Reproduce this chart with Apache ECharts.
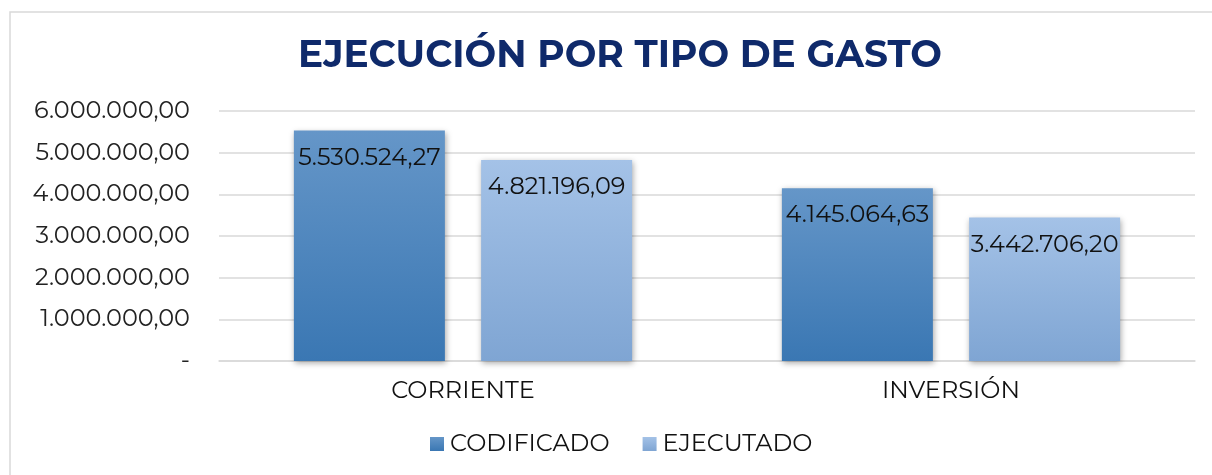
<!DOCTYPE html>
<html>
<head>
<meta charset="utf-8">
<title>Ejecución por tipo de gasto</title>
<script src="https://cdn.jsdelivr.net/npm/echarts@6/dist/echarts.min.js"></script>
<style>
  html, body { margin: 0; padding: 0; background: #fff; }
  #chart { width: 1212px; height: 475px; }
</style>
</head>
<body>
<div id="chart"></div>
<script>
// datos
const categories = ['CORRIENTE', 'INVERSIÓN']
const codificado = [5530524.27, 4145064.63]
const ejecutado = [4821196.09, 3442706.20]
const seriesNames = ['CODIFICADO', 'EJECUTADO']

const FONT = 'Montserrat, "Open Sans", sans-serif'

// formato 1.234.567,89
function fmt(v) {
  if (v === 0) return '-'
  const parts = v.toFixed(2).split('.')
  return parts[0].replace(/\B(?=(\d{3})+(?!\d))/g, '.') + ',' + parts[1]
}

function grad(top, bottom) {
  return new echarts.graphic.LinearGradient(0, 0, 0, 1, [
    { offset: 0, color: top },
    { offset: 1, color: bottom }
  ])
}

const chart = echarts.init(document.getElementById('chart'))

const label = {
  show: true,
  position: 'insideTop',
  distance: 15,
  color: '#111',
  fontSize: 24,
  fontFamily: FONT,
  formatter: p => fmt(p.value)
}

const option = {
  animation: false,
  graphic: [{
    type: 'rect',
    shape: { x: 10, y: 12, width: 1215, height: 480 },
    style: { fill: 'none', stroke: '#d9d9d9', lineWidth: 1.5 },
    silent: true
  }],
  title: {
    text: 'EJECUCIÓN POR TIPO DE GASTO',
    left: 293,
    top: 32,
    textStyle: {
      color: '#0f2a6b',
      fontSize: 37.5,
      fontWeight: 'bold',
      fontFamily: FONT
    }
  },
  legend: {
    bottom: 14,
    left: 425,
    itemWidth: 14,
    itemHeight: 14,
    itemGap: 33,
    icon: 'rect',
    textStyle: { fontSize: 24, color: '#111', fontFamily: FONT, padding: [0, 0, 0, 1] },
    data: seriesNames
  },
  grid: {
    left: 219,
    right: 17,
    top: 111,
    bottom: 114
  },
  xAxis: {
    type: 'category',
    data: categories,
    axisLine: { show: true, lineStyle: { color: '#d9d9d9', width: 1.5 } },
    axisTick: { show: false },
    axisLabel: { fontSize: 24, color: '#111', fontFamily: FONT, margin: 18 }
  },
  yAxis: {
    type: 'value',
    min: 0,
    max: 6000000,
    interval: 1000000,
    axisLine: { show: false },
    axisTick: { show: false },
    splitLine: { lineStyle: { color: '#d9d9d9', width: 1.5 } },
    axisLabel: {
      fontSize: 24,
      color: '#222',
      fontFamily: FONT,
      margin: 29,
      formatter: v => fmt(v)
    }
  },
  series: [
    {
      name: seriesNames[0],
      type: 'bar',
      data: codificado,
      barWidth: 151,
      barGap: '24%',
      itemStyle: {
        color: grad('#6596c8', '#3a77b3'),
        shadowColor: 'rgba(0,0,0,0.35)',
        shadowBlur: 6,
        shadowOffsetX: 1,
        shadowOffsetY: 2
      },
      label: label
    },
    {
      name: seriesNames[1],
      type: 'bar',
      data: ejecutado,
      barWidth: 151,
      itemStyle: {
        color: grad('#a4c2e7', '#7fa5d3'),
        shadowColor: 'rgba(0,0,0,0.35)',
        shadowBlur: 6,
        shadowOffsetX: 1,
        shadowOffsetY: 2
      },
      label: label
    }
  ]
}

chart.setOption(option)
</script>
</body>
</html>
